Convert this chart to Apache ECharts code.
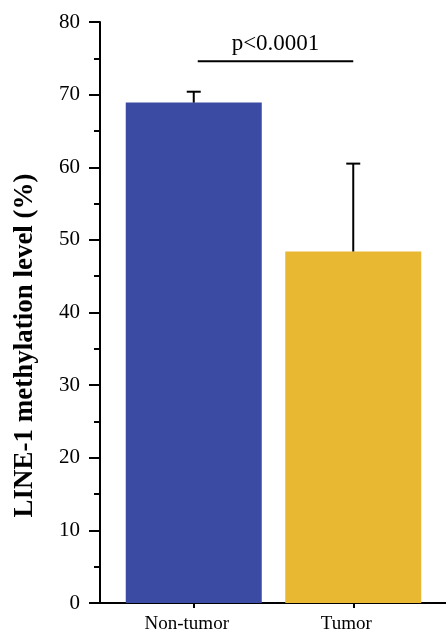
<!DOCTYPE html>
<html>
<head>
<meta charset="utf-8">
<script src="https://cdn.jsdelivr.net/npm/echarts@6/dist/echarts.min.js"></script>
<style>html,body{margin:0;padding:0;background:#fff;}#c{width:446px;height:634px;}</style>
</head>
<body>
<div id="c"></div>
<script>
const categories = ['Non-tumor', 'Tumor'];
const means = [68.9, 48.4];
const upperErr = [70.4, 60.5];
const yAxisTitle = 'LINE-1 methylation level (%)';
const pLabel = 'p<0.0001';
const sigLevel = 74.6;

const FONT = '"Liberation Serif", "Times New Roman", serif';
const barColors = ['#3B4AA2', '#E9B833'];

const chart = echarts.init(document.getElementById('c'), null, {renderer: 'canvas'});
const option = {
  animation: false,
  backgroundColor: '#ffffff',
  grid: [
    {left: 100, right: 0, top: 22, bottom: 31},
    {left: 114, right: 13, top: 22, bottom: 31}
  ],
  xAxis: [
    {gridIndex: 0, type: 'value', min: 0, max: 1, axisLine: {show: true, lineStyle: {color: '#000', width: 2}},
     axisTick: {show: false}, axisLabel: {show: false}, splitLine: {show: false}},
    {gridIndex: 1, type: 'category', data: categories, axisLine: {show: false},
     axisTick: {show: true, alignWithLabel: true, length: 5, lineStyle: {color: '#000', width: 2}},
     axisLabel: {color: '#000', fontFamily: FONT, fontSize: 19, margin: 12, padding: [0, 14, 0, 0]}}
  ],
  yAxis: [
    {gridIndex: 0, type: 'value', min: 0, max: 80, interval: 10,
     name: yAxisTitle, nameLocation: 'middle', nameGap: 61, nameRotate: 90,
     nameTextStyle: {color: '#000', fontFamily: FONT, fontSize: 27, fontWeight: 'bold', padding: [0, 66, 0, 0]},
     axisLine: {show: true, lineStyle: {color: '#000', width: 2}},
     axisTick: {show: true, length: 11, lineStyle: {color: '#000', width: 2}},
     minorTick: {show: true, splitNumber: 2, length: 6, lineStyle: {color: '#000', width: 2}},
     axisLabel: {color: '#000', fontFamily: FONT, fontSize: 21, margin: 20},
     splitLine: {show: false}},
    {gridIndex: 1, type: 'value', min: 0, max: 80, show: false, splitLine: {show: false}}
  ],
  series: [
    {
      type: 'bar', xAxisIndex: 1, yAxisIndex: 1, barWidth: 136,
      data: means.map((v, i) => ({value: v, itemStyle: {color: barColors[i]}}))
    },
    {
      type: 'custom', xAxisIndex: 1, yAxisIndex: 1, z: 5,
      data: means.map((v, i) => [i, v, upperErr[i]]),
      renderItem: function (params, api) {
        const base = api.coord([api.value(0), api.value(1)]);
        const top = api.coord([api.value(0), api.value(2)]);
        const hw = 7;
        return {
          type: 'group',
          children: [
            {type: 'line', shape: {x1: base[0], y1: base[1], x2: top[0], y2: top[1]}, style: {stroke: '#000', lineWidth: 2}},
            {type: 'line', shape: {x1: top[0] - hw, y1: top[1], x2: top[0] + hw, y2: top[1]}, style: {stroke: '#000', lineWidth: 2}}
          ]
        };
      }
    },
    {
      type: 'custom', xAxisIndex: 1, yAxisIndex: 1, z: 5,
      data: [[0, 1, sigLevel]],
      renderItem: function (params, api) {
        const a = api.coord([api.value(0), api.value(2)]);
        const b = api.coord([api.value(1), api.value(2)]);
        return {
          type: 'group',
          children: [
            {type: 'line', shape: {x1: a[0] + 4, y1: a[1], x2: b[0], y2: b[1]}, style: {stroke: '#000', lineWidth: 2}},
            {type: 'text', style: {text: pLabel, x: (a[0] + b[0]) / 2 + 2, y: a[1] - 6, textAlign: 'center', textVerticalAlign: 'bottom',
              fill: '#000', font: '23px ' + FONT}}
          ]
        };
      }
    }
  ]
};
chart.setOption(option);
</script>
</body>
</html>
